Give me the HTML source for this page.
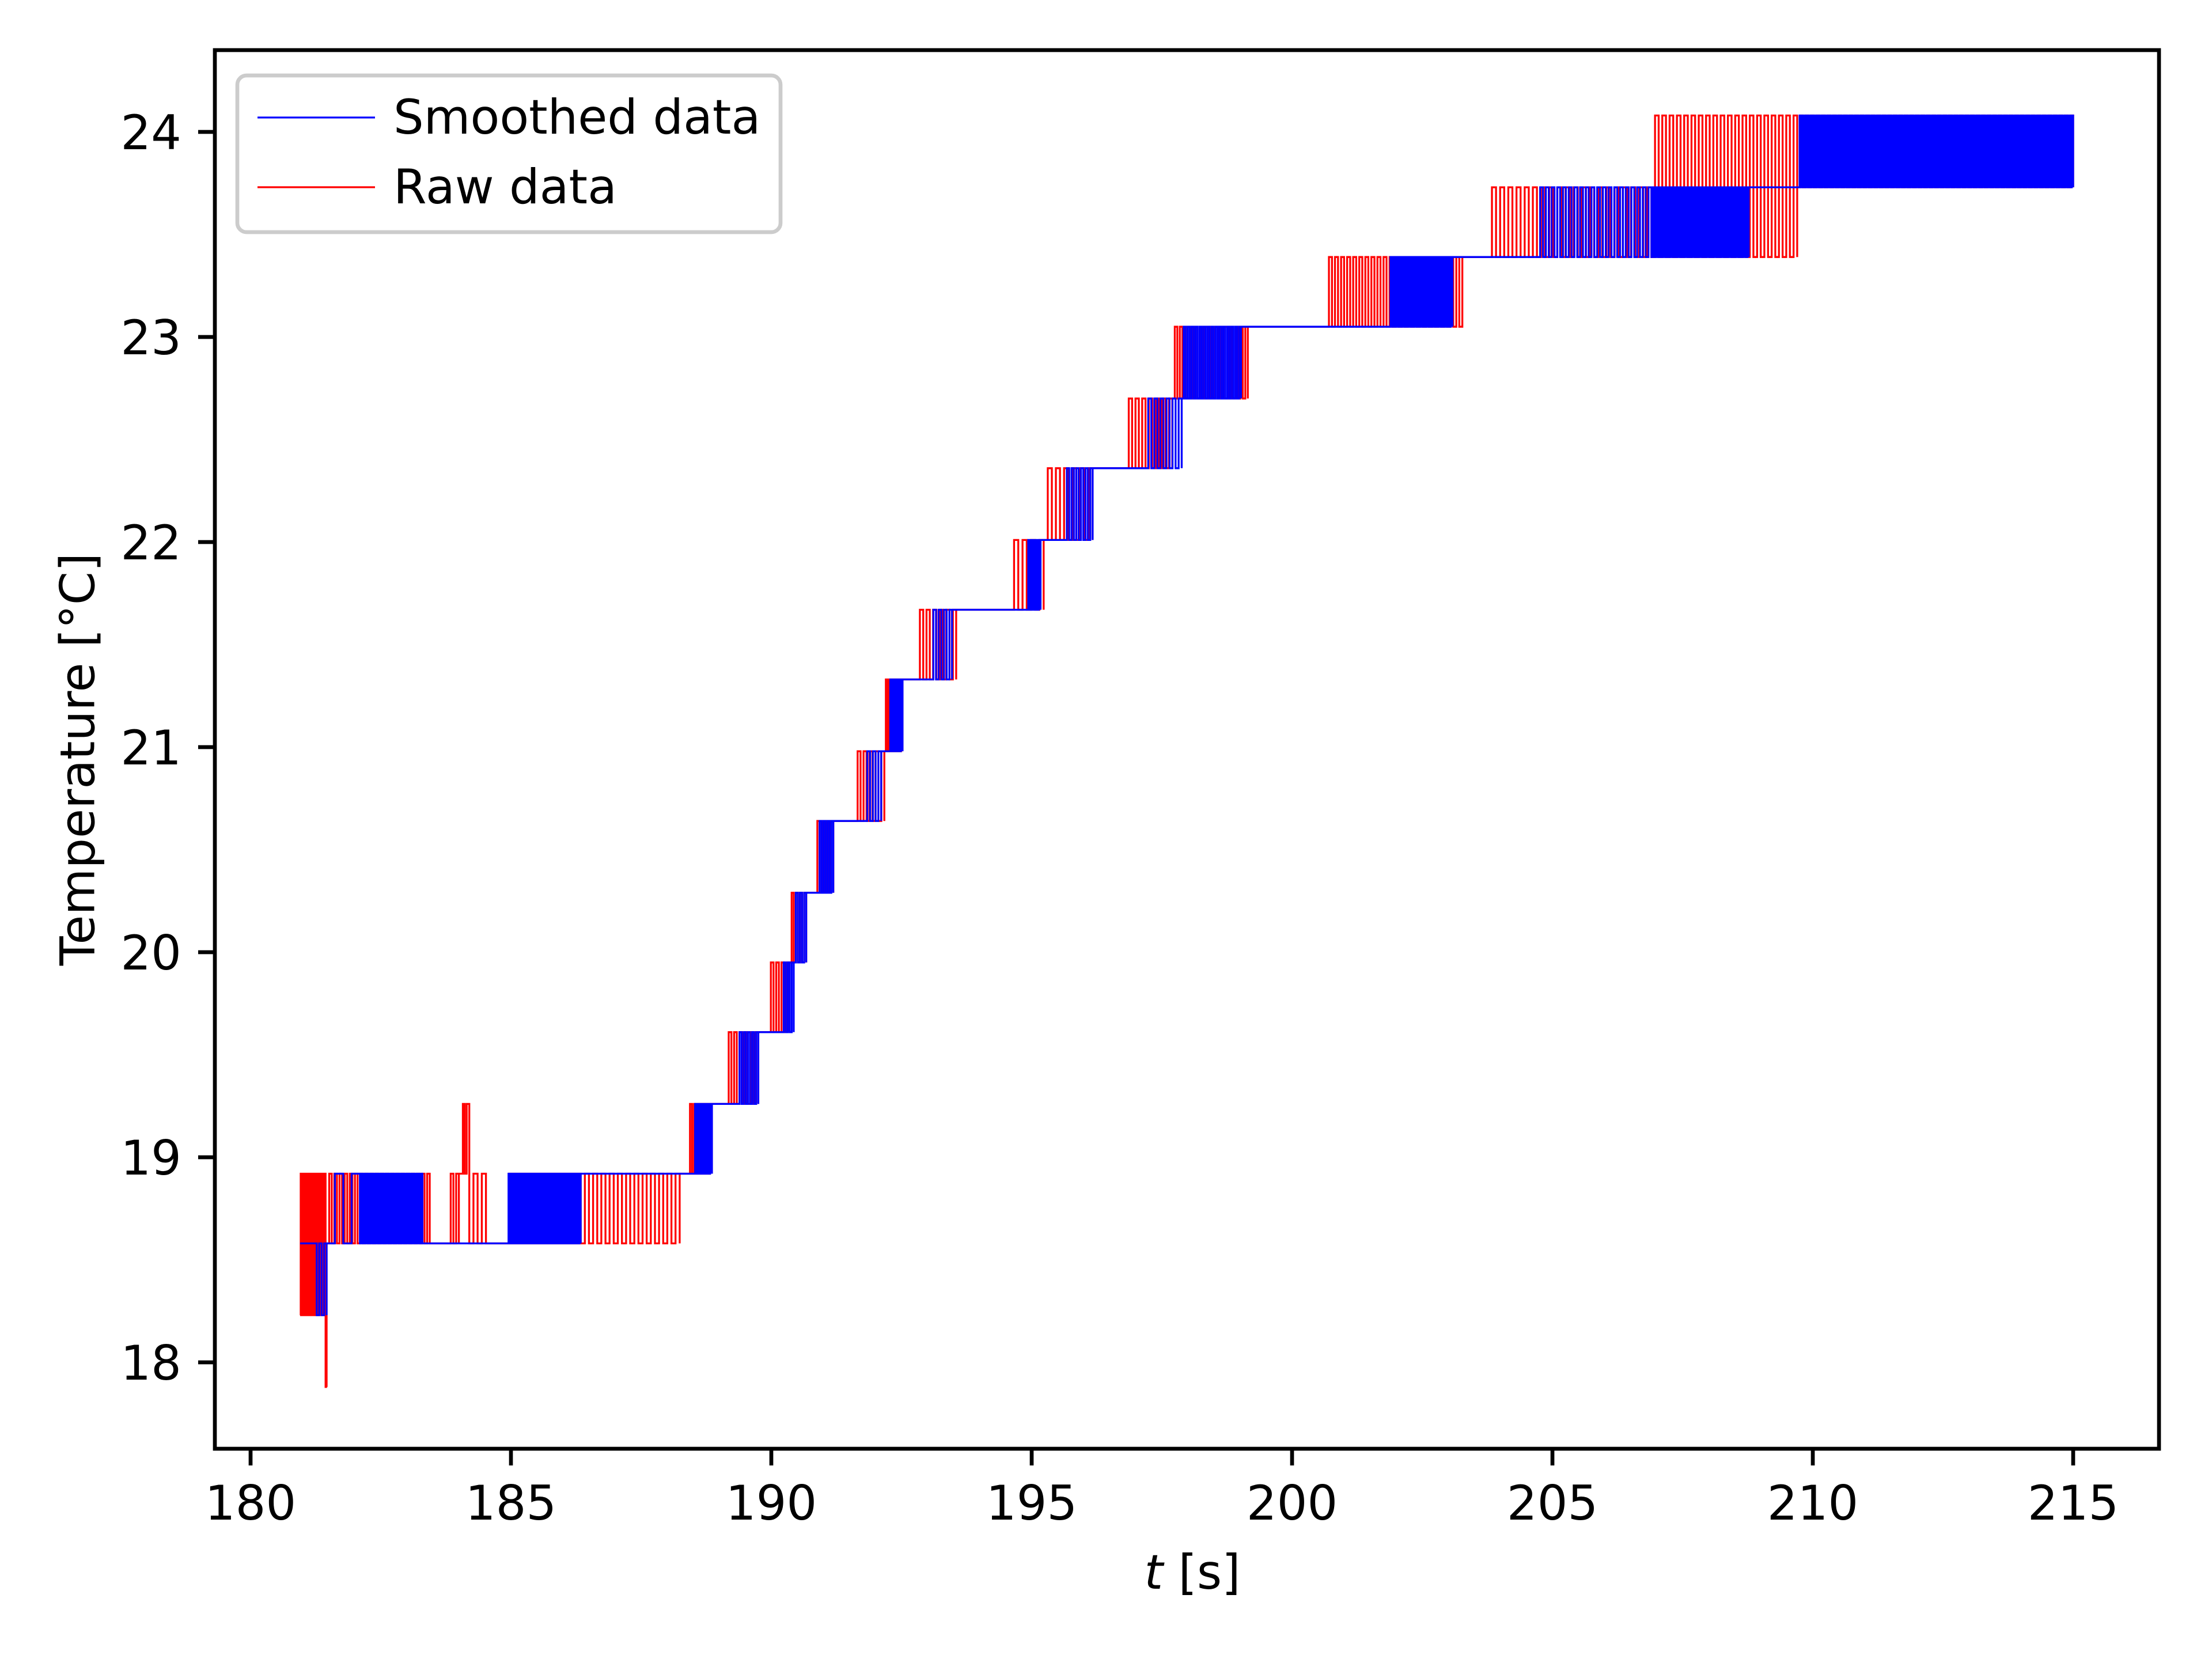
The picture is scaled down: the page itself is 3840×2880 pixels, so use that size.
<!DOCTYPE html>
<html><head><meta charset="utf-8">
<style>
html,body{margin:0;padding:0;background:#fff;}
svg{display:block;}
text{font-family:"DejaVu Sans","Liberation Sans",sans-serif;fill:#000;}
</style></head>
<body>
<svg id="chart" width="3840" height="2880" viewBox="0 0 3840 2880" xmlns="http://www.w3.org/2000/svg">
<rect x="0" y="0" width="3840" height="2880" fill="#fff"/>
<g id="plot"></g>
<g id="axes"></g>
<text x="135" y="1318" font-size="83" text-anchor="middle" dominant-baseline="central" transform="rotate(-90 135 1318)">Temperature [°C]</text>
<text x="2070" y="2758" font-size="83" text-anchor="middle"><tspan font-style="italic">t</tspan> [s]</text>
<g>
<rect x="412" y="131" width="943" height="272" rx="16" fill="#fff" fill-opacity="0.8" stroke="#cccccc" stroke-width="6.7"/>
<line x1="447" y1="204" x2="651" y2="204" stroke="#0000ff" stroke-width="3.3"/>
<text x="683" y="232" font-size="83">Smoothed data</text>
<line x1="447" y1="325" x2="651" y2="325" stroke="#ff0000" stroke-width="3.3"/>
<text x="683" y="353" font-size="83">Raw data</text>
</g>
</svg>
<script>
// Raw data flicker bands (time range, low/high level, number of flips)
const rawStart = [180.95,181.44,181.46,183.79,184.04,184.20,184.93,186.34,188.40,189.13,189.94,190.35,190.84,191.60,192.17,192.79,194.58,195.23,196.80,197.70,200.65,203.76,206.90,209.70];
const rawEnd   = [181.44,181.46,183.44,184.00,184.15,184.52,186.34,188.24,188.86,189.75,190.35,190.67,191.19,192.17,192.52,193.55,195.23,196.17,197.70,199.15,203.27,206.90,209.70,215.00];
const rawLow   = [18.23,17.88,18.58,18.58,18.92,18.58,18.58,18.58,18.92,19.26,19.61,19.95,20.29,20.64,20.98,21.33,21.67,22.01,22.36,22.70,23.05,23.39,23.39,23.73];
const rawHigh  = [18.92,18.58,18.92,18.92,19.26,18.92,18.92,18.92,19.26,19.61,19.95,20.29,20.64,20.98,21.33,21.67,22.01,22.36,22.70,23.05,23.39,23.73,24.08,24.08];
const rawCount = [40,2,40,4,3,4,40,24,12,12,8,8,8,10,12,12,8,12,14,30,45,40,40,100];
// Smoothed data flicker bands
const smStart = [181.27,181.46,182.10,184.93,188.50,189.35,190.20,190.43,190.89,191.79,192.25,193.06,194.90,195.63,197.18,197.88,201.86,204.71,206.90,209.72];
const smEnd   = [181.46,182.10,183.30,186.34,188.86,189.75,190.43,190.67,191.19,192.11,192.52,193.47,195.17,196.17,197.88,199.02,203.08,206.90,208.77,215.00];
const smLow   = [18.23,18.58,18.58,18.58,18.92,19.26,19.61,19.95,20.29,20.64,20.98,21.33,21.67,22.01,22.36,22.70,23.05,23.39,23.39,23.73];
const smHigh  = [18.58,18.92,18.92,18.92,19.26,19.61,19.95,20.29,20.64,20.98,21.33,21.67,22.01,22.36,22.70,23.05,23.39,23.73,23.73,24.08];
const smCount = [4,4,50,60,10,10,6,6,8,6,8,8,8,12,12,30,40,40,80,200];
const smFirstT = 180.95, smFirstV = 18.58;
const xTicks = [180,185,190,195,200,205,210,215];
const yTicks = [18,19,20,21,22,23,24];

const X = t => 435 + (t - 180) * 90.4;
const Y = v => 2365 - (v - 18) * 356;
const NS = "http://www.w3.org/2000/svg";
const plot = document.getElementById('plot');
const axes = document.getElementById('axes');

function buildPts(st, en, lo, hi, cnt, firstT, firstV) {
  const pts = [];
  if (firstT !== null) pts.push([firstT, firstV]);
  for (let b = 0; b < st.length; b++) {
    const n = cnt[b];
    for (let i = 0; i <= n; i++) {
      const t = st[b] + (en[b] - st[b]) * i / n;
      const v = (i % 2 === 0) ? lo[b] : hi[b];
      if (pts.length) pts.push([t, pts[pts.length - 1][1]]);
      pts.push([t, v]);
    }
    const last = pts[pts.length - 1];
    if (last[1] !== hi[b] && b + 1 < st.length && lo[b+1] >= hi[b]) pts.push([last[0], hi[b]]);
  }
  return pts.map(p => X(p[0]).toFixed(1) + ',' + Y(p[1]).toFixed(1)).join(' ');
}

const raw = document.createElementNS(NS, 'polyline');
raw.setAttribute('points', buildPts(rawStart, rawEnd, rawLow, rawHigh, rawCount, null, null));
raw.setAttribute('fill', 'none');
raw.setAttribute('stroke', '#ff0000');
raw.setAttribute('stroke-width', '3.3');


plot.appendChild(raw);

const sm = document.createElementNS(NS, 'polyline');
sm.setAttribute('points', buildPts(smStart, smEnd, smLow, smHigh, smCount, smFirstT, smFirstV));
sm.setAttribute('fill', 'none');
sm.setAttribute('stroke', '#0000ff');
sm.setAttribute('stroke-width', '3.3');


plot.appendChild(sm);

const frame = document.createElementNS(NS, 'rect');
frame.setAttribute('x', 373); frame.setAttribute('y', 87);
frame.setAttribute('width', 3748 - 373); frame.setAttribute('height', 2515 - 87);
frame.setAttribute('fill', 'none'); frame.setAttribute('stroke', '#000'); frame.setAttribute('stroke-width', '6.7');


axes.appendChild(frame);

xTicks.forEach(v => {
  const l = document.createElementNS(NS, 'line');
  l.setAttribute('x1', X(v)); l.setAttribute('x2', X(v));
  l.setAttribute('y1', 2515); l.setAttribute('y2', 2544);
  l.setAttribute('stroke', '#000'); l.setAttribute('stroke-width', '6.7');
  
  
  axes.appendChild(l);
  const tx = document.createElementNS(NS, 'text');
  tx.setAttribute('x', X(v)); tx.setAttribute('y', 2638);
  tx.setAttribute('font-size', '83'); tx.setAttribute('text-anchor', 'middle');
  tx.textContent = v;
  
  
  axes.appendChild(tx);
});
yTicks.forEach(v => {
  const l = document.createElementNS(NS, 'line');
  l.setAttribute('x1', 344); l.setAttribute('x2', 373);
  l.setAttribute('y1', Y(v)); l.setAttribute('y2', Y(v));
  l.setAttribute('stroke', '#000'); l.setAttribute('stroke-width', '6.7');
  
  
  axes.appendChild(l);
  const tx = document.createElementNS(NS, 'text');
  tx.setAttribute('x', 315); tx.setAttribute('y', Y(v) + 30);
  tx.setAttribute('font-size', '83'); tx.setAttribute('text-anchor', 'end');
  tx.textContent = v;
  
  
  axes.appendChild(tx);
});
</script>
</body></html>
